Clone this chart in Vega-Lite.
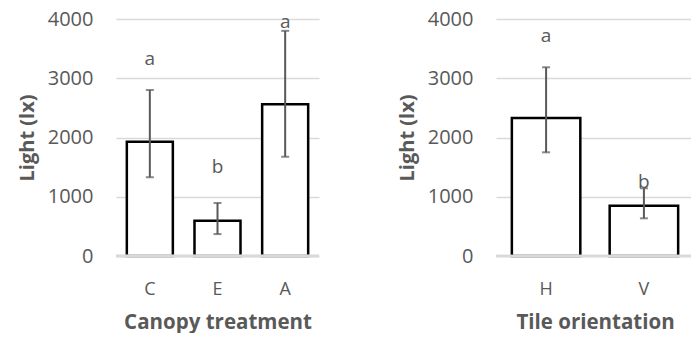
{
  "$schema": "https://vega.github.io/schema/vega-lite/v6.json",
  "padding": {"left": 17, "top": 9, "right": 0, "bottom": 0},
  "spacing": 76,
  "config": {
    "view": {"stroke": null},
    "font": "Open Sans",
    "axis": {
      "domain": false,
      "ticks": false,
      "grid": false,
      "labelColor": "#595959",
      "titleColor": "#595959",
      "titleFontWeight": "bold"
    },
    "axisY": {"grid": true, "gridColor": "#d9d9d9", "gridWidth": 1.5, "labelPadding": 23, "titlePadding": 10, "labelFontSize": 20, "titleFontSize": 20},
    "axisX": {"labelPadding": 24, "titlePadding": 14, "labelAngle": 0, "labelFontSize": 18, "titleFontSize": 20.5}
  },
  "hconcat": [
    {
      "width": 203,
      "height": 237,
      "data": {"values": [
        {"treatment": "C", "mean": 1930, "lo": 1330, "hi": 2800, "letter": "a", "letter_y": 3325},
        {"treatment": "E", "mean": 595, "lo": 370, "hi": 895, "letter": "b", "letter_y": 1500},
        {"treatment": "A", "mean": 2560, "lo": 1675, "hi": 3800, "letter": "a", "letter_y": 3950}
      ]},
      "encoding": {
        "x": {"field": "treatment", "type": "nominal", "sort": ["C", "E", "A"], "scale": {"paddingInner": 0.32, "paddingOuter": 0.16}, "axis": {"title": "Canopy treatment"}}
      },
      "layer": [
        {"mark": {"type": "bar", "fill": "white", "stroke": "black", "strokeWidth": 2.5},
         "encoding": {"y": {"field": "mean", "type": "quantitative", "scale": {"domain": [0, 4000]}, "axis": {"title": "Light (lx)", "values": [0, 1000, 2000, 3000, 4000], "format": "d"}}}},
        {"mark": {"type": "rule", "color": "#d9d9d9", "strokeWidth": 2.5}, "encoding": {"y": {"datum": 0}, "x": {"value": 0}, "x2": {"value": 203}}},
        {"mark": {"type": "rule", "color": "#595959", "strokeWidth": 2},
         "encoding": {"y": {"field": "lo", "type": "quantitative"}, "y2": {"field": "hi"}}},
        {"mark": {"type": "tick", "orient": "horizontal", "size": 8, "thickness": 2, "color": "#595959"},
         "encoding": {"y": {"field": "hi", "type": "quantitative"}}},
        {"mark": {"type": "tick", "orient": "horizontal", "size": 8, "thickness": 2, "color": "#595959"},
         "encoding": {"y": {"field": "lo", "type": "quantitative"}}},
        {"mark": {"type": "text", "fontSize": 19, "color": "#595959", "baseline": "middle"},
         "encoding": {"y": {"field": "letter_y", "type": "quantitative"}, "text": {"field": "letter"}}}
      ]
    },
    {
      "width": 198,
      "height": 237,
      "data": {"values": [
        {"orientation": "H", "mean": 2330, "lo": 1750, "hi": 3185, "letter": "a", "letter_y": 3718},
        {"orientation": "V", "mean": 850, "lo": 636, "hi": 1143, "letter": "b", "letter_y": 1254}
      ]},
      "encoding": {
        "x": {"field": "orientation", "type": "nominal", "sort": ["H", "V"], "scale": {"paddingInner": 0.3, "paddingOuter": 0.162}, "axis": {"title": "Tile orientation"}}
      },
      "layer": [
        {"mark": {"type": "bar", "fill": "white", "stroke": "black", "strokeWidth": 2.5},
         "encoding": {"y": {"field": "mean", "type": "quantitative", "scale": {"domain": [0, 4000]}, "axis": {"title": "Light (lx)", "values": [0, 1000, 2000, 3000, 4000], "format": "d"}}}},
        {"mark": {"type": "rule", "color": "#d9d9d9", "strokeWidth": 2.5}, "encoding": {"y": {"datum": 0}, "x": {"value": 0}, "x2": {"value": 198}}},
        {"mark": {"type": "rule", "color": "#595959", "strokeWidth": 2},
         "encoding": {"y": {"field": "lo", "type": "quantitative"}, "y2": {"field": "hi"}}},
        {"mark": {"type": "tick", "orient": "horizontal", "size": 8, "thickness": 2, "color": "#595959"},
         "encoding": {"y": {"field": "hi", "type": "quantitative"}}},
        {"mark": {"type": "tick", "orient": "horizontal", "size": 8, "thickness": 2, "color": "#595959"},
         "encoding": {"y": {"field": "lo", "type": "quantitative"}}},
        {"mark": {"type": "text", "fontSize": 19, "color": "#595959", "baseline": "middle"},
         "encoding": {"y": {"field": "letter_y", "type": "quantitative"}, "text": {"field": "letter"}}}
      ]
    }
  ]
}
